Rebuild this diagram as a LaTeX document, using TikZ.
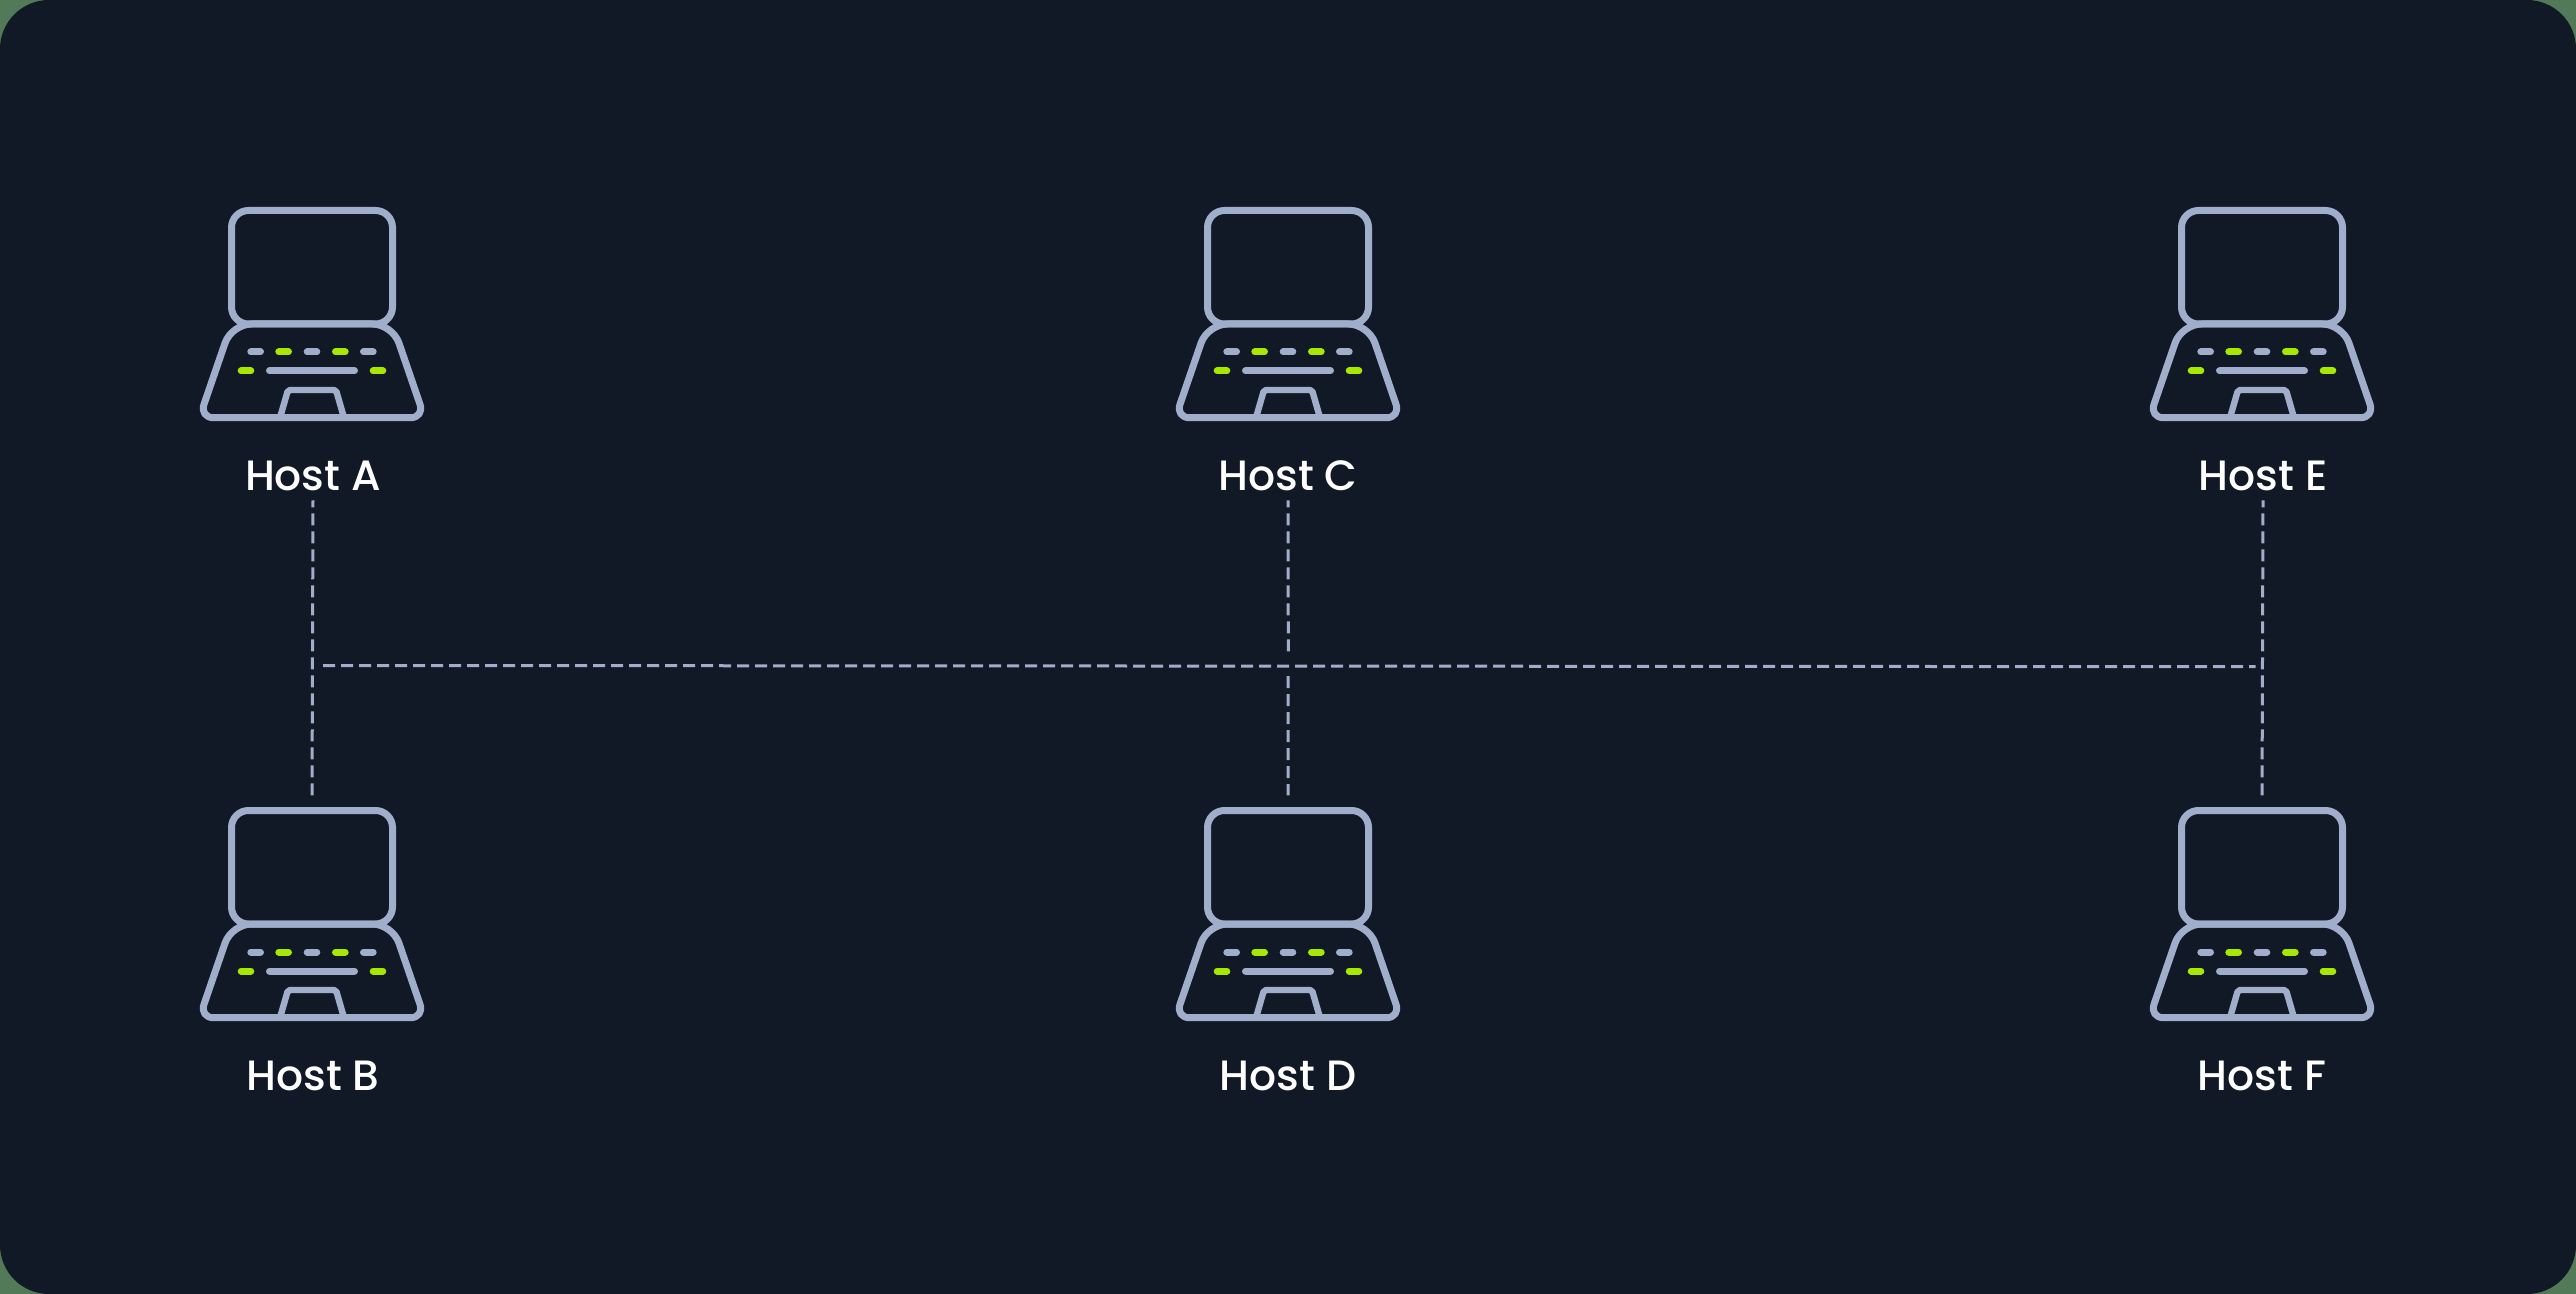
\documentclass[tikz,border=0pt]{standalone}
\usepackage{fontspec}
\setmainfont{Poppins}[UprightFont=* Medium]
\definecolor{panel}{RGB}{17,25,38}
\definecolor{cornerbg}{RGB}{82,122,88}
\definecolor{lapgray}{RGB}{160,174,203}
\definecolor{lime}{RGB}{166,232,0}
\tikzset{
  x=0.5pt,y=-0.5pt,
  lapline/.style={draw=lapgray,line width=3.5pt,line join=round},
  graybar/.style={draw=lapgray,line width=3.5pt,line cap=round},
  limebar/.style={draw=lime,line width=3.5pt,line cap=round},
  link/.style={draw=lapgray,line width=1.5pt,dash pattern=on 6pt off 3pt},
  hostlabel/.style={inner sep=0pt,text=white,font=\fontsize{21.2pt}{24pt}\selectfont,text height=15.5pt,text depth=4.65pt,anchor=base},
  lapbox/.style={inner sep=0pt,minimum width=84pt,minimum height=107pt},
  pics/laptop/.style={code={
    \draw[lapline,rounded corners=8.5pt] (-80.5,-107) rectangle (80.5,6.5);
    \draw[lapline] (0,6.5) [rounded corners=10pt] -- (-80.4,6.5) [rounded corners=7pt] -- (-112.6,100.2) -- (112.6,100.2) [rounded corners=10pt] -- (80.4,6.5) -- cycle;
    \draw[lapline,rounded corners=1pt,line width=3.2pt] (-32,100.2) -- (-24,72.5) -- (24,72.5) -- (32,100.2);
    \draw[graybar] (-61.2,34.5) -- (-51.5,34.5);
    \draw[limebar] (-33.2,34.5) -- (-23.5,34.5);
    \draw[graybar] (-4.8,34.5) -- (4.8,34.5);
    \draw[limebar] (23.5,34.5) -- (33.2,34.5);
    \draw[graybar] (51.5,34.5) -- (61.2,34.5);
    \draw[limebar] (-70.8,53.5) -- (-61.2,53.5);
    \draw[graybar] (-42.5,53.5) -- (42.5,53.5);
    \draw[limebar] (61.2,53.5) -- (70.8,53.5);
  }}
}
\begin{document}
\begin{tikzpicture}
\useasboundingbox (0,0) rectangle (2576,1294);
\fill[cornerbg] (0,0) rectangle (2576,1294);
\fill[panel,rounded corners=24.5pt] (0,0) rectangle (2576,1294);
% laptops
\foreach \cx/\cy in {312/317.5,1288/317.5,2262/317.5,312/917.5,1288/917.5,2262/917.5}
  \pic at (\cx,\cy) {laptop};
% invisible laptop bodies, for the connectors
\node[lapbox] (lapB) at (312,914) {};
\node[lapbox] (lapD) at (1288,914) {};
\node[lapbox] (lapF) at (2262,914) {};
% labels
\node[hostlabel] (hostA) at (313,490.7) {Host A};
\node[hostlabel] (hostC) at (1288,490.7) {Host C};
\node[hostlabel] (hostE) at (2263,490.7) {Host E};
\node[hostlabel] (hostB) at (313,1090.7) {Host B};
\node[hostlabel] (hostD) at (1288,1090.7) {Host D};
\node[hostlabel] (hostF) at (2262,1090.7) {Host F};
% connectors
\coordinate (busL) at (323,665.5);
\coordinate (busR) at (2255.7,666.7);
\coordinate (cUp) at (1288.3,651.7);
\coordinate (cDown) at (1288.1,676);
\draw[link,dash phase=2.5pt,shorten >=5.65pt] (hostA.south) -- (lapB.north);
\draw[link,dash phase=2.5pt] (hostC.south) -- (cUp);
\draw[link,shorten >=5.65pt] (cDown) -- (lapD.north);
\draw[link,dash phase=2.5pt,shorten >=5.65pt] (hostE.south) -- (lapF.north);
\draw[link] (busL) -- (busR);
\end{tikzpicture}
\end{document}
